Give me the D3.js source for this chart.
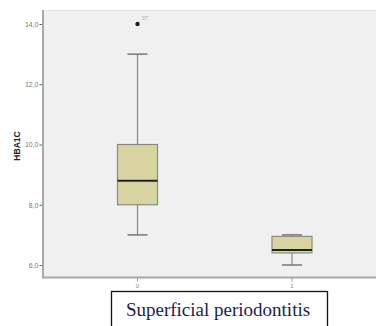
<!DOCTYPE html>
<html>
<head>
<meta charset="utf-8">
<script src="https://cdn.jsdelivr.net/npm/d3@7"></script>
<style>
html,body{margin:0;padding:0;background:#fff;}
svg{display:block;}
</style>
</head>
<body>
<svg id="chart" width="376" height="326"></svg>
<script>
// Data
const categories = ["0", "1"];
const whiskerLow = [7.0, 6.0];
const q1 = [8.0, 6.4];
const median = [8.8, 6.5];
const q3 = [10.0, 6.95];
const whiskerHigh = [13.0, 7.0];
const outlierCategory = ["0"];
const outlierValue = [14.0];
const outlierLabel = ["37"];
const yTicks = [6, 8, 10, 12, 14];
const yLabel = "HBA1C";
const caption = "Superficial periodontitis";

const svg = d3.select("#chart");
const plot = {left: 43, right: 376, top: 10, bottom: 277.5};

const y = d3.scaleLinear().domain([5.585, 14.465]).range([plot.bottom, plot.top]);
const x = d3.scaleBand().domain(categories).range([60.25, 369.25]).padding(0);
const cx = c => x(c) + x.bandwidth() / 2;
const boxW = 40, capW = 20;

// plot background
svg.append("rect").attr("x", plot.left).attr("y", plot.top)
  .attr("width", plot.right - plot.left).attr("height", plot.bottom - plot.top)
  .attr("fill", "#f0f0f0");
svg.append("line").attr("x1", plot.left).attr("x2", plot.right)
  .attr("y1", plot.top + 0.5).attr("y2", plot.top + 0.5)
  .attr("stroke", "#e6e6e6").attr("stroke-width", 1);

// Y axis
const yAxis = d3.axisLeft(y).tickValues(yTicks).tickSize(3).tickPadding(1)
  .tickFormat(d => d3.format(".1f")(d).replace(".", ","));
const gy = svg.append("g").attr("transform", `translate(${plot.left - 0.5},0)`).call(yAxis);
gy.select(".domain").remove();
gy.selectAll(".tick line").attr("stroke", "#666");
gy.selectAll(".tick text").attr("fill", "#777").attr("font-size", 7)
  .attr("font-family", "Arial, 'Liberation Sans', sans-serif");

// X axis
const xAxis = d3.axisBottom(x).tickSize(4).tickPadding(2);
const gx = svg.append("g").attr("transform", `translate(0,${plot.bottom})`).call(xAxis);
gx.select(".domain").remove();
gx.selectAll(".tick line").attr("stroke", "#999");
gx.selectAll(".tick text").attr("fill", "#888").attr("font-size", 6)
  .attr("font-family", "Arial, 'Liberation Sans', sans-serif");

// axis lines
svg.append("line").attr("x1", plot.left).attr("x2", plot.left)
  .attr("y1", plot.top).attr("y2", plot.bottom + 1)
  .attr("stroke", "#a8a8a8").attr("stroke-width", 2);
svg.append("line").attr("x1", plot.left - 1).attr("x2", plot.right)
  .attr("y1", plot.bottom).attr("y2", plot.bottom)
  .attr("stroke", "#a8a8a8").attr("stroke-width", 2);

// Y label
svg.append("text").attr("transform", `translate(20,146) rotate(-90)`)
  .attr("text-anchor", "middle").attr("font-size", 8.5).attr("font-weight", "bold")
  .attr("font-family", "Arial, 'Liberation Sans', sans-serif").attr("fill", "#222")
  .text(yLabel);

// boxes
const boxes = svg.append("g");
categories.forEach((c, i) => {
  const g = boxes.append("g");
  const xc = cx(c);
  g.append("line").attr("x1", xc).attr("x2", xc)
    .attr("y1", y(whiskerHigh[i])).attr("y2", y(q3[i]))
    .attr("stroke", "#888").attr("stroke-width", 1.2);
  g.append("line").attr("x1", xc).attr("x2", xc)
    .attr("y1", y(q1[i])).attr("y2", y(whiskerLow[i]))
    .attr("stroke", "#888").attr("stroke-width", 1.2);
  g.append("line").attr("x1", xc - capW / 2).attr("x2", xc + capW / 2)
    .attr("y1", y(whiskerHigh[i])).attr("y2", y(whiskerHigh[i]))
    .attr("stroke", "#777").attr("stroke-width", 1.5);
  g.append("line").attr("x1", xc - capW / 2).attr("x2", xc + capW / 2)
    .attr("y1", y(whiskerLow[i])).attr("y2", y(whiskerLow[i]))
    .attr("stroke", "#777").attr("stroke-width", 1.5);
  g.append("rect").attr("x", xc - boxW / 2).attr("y", y(q3[i]))
    .attr("width", boxW).attr("height", y(q1[i]) - y(q3[i]))
    .attr("fill", "#d8d4a2").attr("stroke", "#8a8a80").attr("stroke-width", 1.2);
  g.append("line").attr("x1", xc - boxW / 2).attr("x2", xc + boxW / 2)
    .attr("y1", y(median[i])).attr("y2", y(median[i]))
    .attr("stroke", "#222").attr("stroke-width", 2);
});

// outliers
outlierValue.forEach((v, i) => {
  const xc = cx(outlierCategory[i]);
  svg.append("circle").attr("cx", xc).attr("cy", y(v)).attr("r", 2.2).attr("fill", "#222");
  svg.append("text").attr("x", xc + 4).attr("y", y(v) - 4)
    .attr("font-size", 5.5).attr("fill", "#aaa").attr("font-style", "italic")
    .attr("font-family", "Arial, 'Liberation Sans', sans-serif").text(outlierLabel[i]);
});

// caption box
svg.append("rect").attr("x", 111.5).attr("y", 291.5).attr("width", 216).attr("height", 50)
  .attr("fill", "#fff").attr("stroke", "#111").attr("stroke-width", 1.3);
svg.append("text").attr("x", 218).attr("y", 316).attr("text-anchor", "middle")
  .attr("font-family", "'Liberation Serif', 'Times New Roman', serif").attr("font-size", 19)
  .attr("fill", "#1c1c50").text(caption);
</script>
</body>
</html>
